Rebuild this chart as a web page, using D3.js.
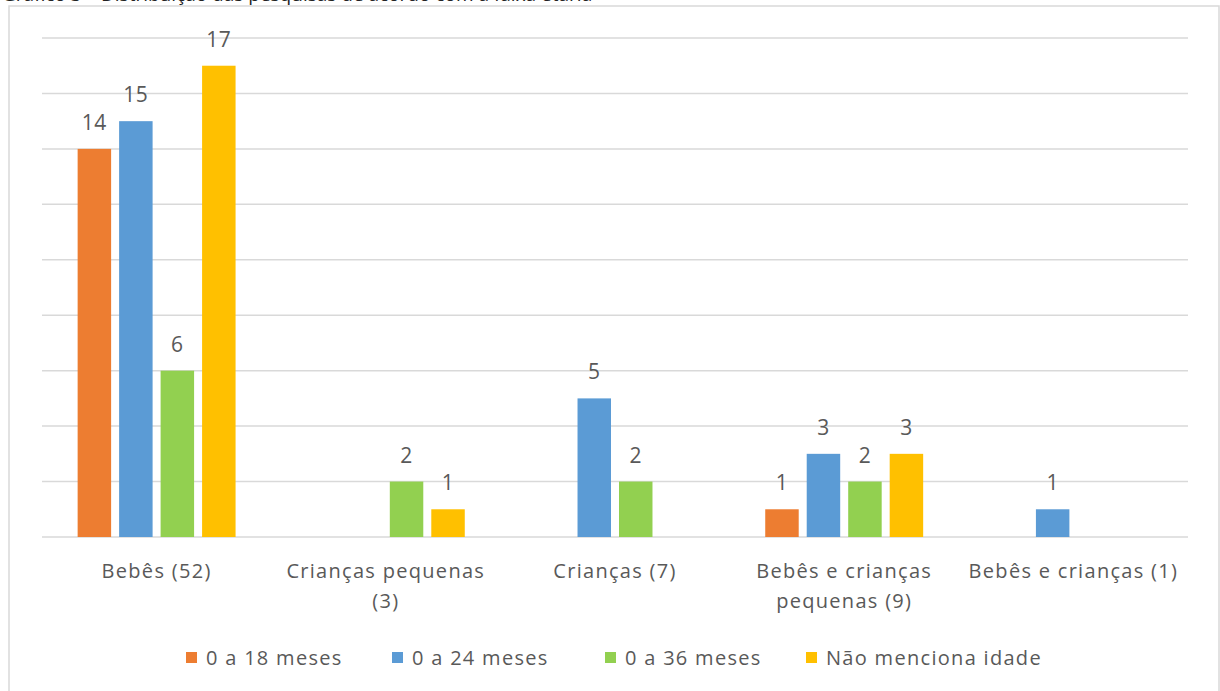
<!DOCTYPE html>
<html>
<head>
<meta charset="utf-8">
<script src="https://cdn.jsdelivr.net/npm/d3@7"></script>
<style>
  html, body { margin: 0; padding: 0; background: #fff; }
  svg text { font-family: "Open Sans", sans-serif; fill: #595959; }
</style>
</head>
<body>
<svg id="chart" width="1220" height="691"></svg>
<script>
// Age groups studied, per category of subject
const categories = ["Bebês (52)", "Crianças pequenas (3)", "Crianças (7)", "Bebês e crianças pequenas (9)", "Bebês e crianças (1)"];
const series = ["0 a 18 meses", "0 a 24 meses", "0 a 36 meses", "Não menciona idade"];
const colors = ["#ED7D31", "#5B9BD5", "#92D050", "#FFC000"];
const values18 = [14, 0, 0, 1, 0];
const values24 = [15, 0, 5, 3, 1];
const values36 = [6, 2, 2, 2, 0];
const valuesNone = [17, 1, 0, 3, 0];
const yTicks = [0, 2, 4, 6, 8, 10, 12, 14, 16, 18];
const title = "Gráfico 3 – Distribuição das pesquisas de acordo com a faixa etária";

const seriesValues = [values18, values24, values36, valuesNone];
const rows = categories.map((c, i) => ({
  category: c,
  values: series.map((s, j) => ({ series: s, value: seriesValues[j][i], color: colors[j] }))
}));

const svg = d3.select("#chart");
const plot = { left: 42, right: 1188, top: 38, bottom: 537 };

// Title sits above the frame, mostly clipped by the top edge
svg.append("text")
  .attr("x", 2).attr("y", 1)
  .style("font-size", "19px").style("fill", "#222")
  .text(title);

// Chart frame
svg.append("rect")
  .attr("x", 9).attr("y", 6).attr("width", 1210).attr("height", 700)
  .attr("fill", "none").attr("stroke", "#d9d9d9").attr("stroke-width", 1.5);

const x0 = d3.scaleBand().domain(categories)
  .range([plot.left, plot.right]).paddingInner(0.276).paddingOuter(0.138);
const x1 = d3.scaleBand().domain(series)
  .range([0, x0.bandwidth()]).paddingInner(0.193).paddingOuter(0.0965);
const y = d3.scaleLinear().domain([0, 18]).range([plot.bottom, plot.top]);

// Horizontal gridlines
svg.append("g").selectAll("line").data(yTicks).join("line")
  .attr("x1", plot.left).attr("x2", plot.right)
  .attr("y1", d => y(d)).attr("y2", d => y(d))
  .attr("stroke", "#d9d9d9").attr("stroke-width", 1.5);

// Bars and value labels
const groups = svg.append("g").selectAll("g").data(rows).join("g")
  .attr("transform", d => `translate(${x0(d.category)},0)`);

const nonZero = d => d.values.filter(v => v.value > 0);

groups.selectAll("rect").data(nonZero).join("rect")
  .attr("x", d => x1(d.series))
  .attr("y", d => y(d.value))
  .attr("width", x1.bandwidth())
  .attr("height", d => y(0) - y(d.value))
  .attr("fill", d => d.color);

groups.selectAll("text").data(nonZero).join("text")
  .attr("x", d => x1(d.series) + x1.bandwidth() / 2)
  .attr("y", d => y(d.value) - 19)
  .attr("text-anchor", "middle")
  .style("font-size", "21px")
  .style("letter-spacing", "0.5px")
  .text(d => d.value);

// Category labels, wrapped to the band width
const xAxis = svg.append("g");
const maxWidth = x0.step() - 8;
categories.forEach(c => {
  const cx = x0(c) + x0.bandwidth() / 2;
  const t = xAxis.append("text")
    .attr("x", cx)
    .attr("y", 578)
    .attr("text-anchor", "middle")
    .style("font-size", "20px")
    .style("letter-spacing", "1.3px");
  const words = c.split(" ");
  let line = [];
  let tspan = t.append("tspan").attr("x", cx).attr("dy", 0);
  words.forEach(w => {
    line.push(w);
    tspan.text(line.join(" "));
    if (tspan.node().getComputedTextLength() > maxWidth && line.length > 1) {
      line.pop();
      tspan.text(line.join(" "));
      line = [w];
      tspan = t.append("tspan").attr("x", cx).attr("dy", 30).text(w);
    }
  });
});

// Legend
const legendX = [186, 392, 605, 806];
const legend = svg.append("g").selectAll("g").data(series).join("g")
  .attr("transform", (d, i) => `translate(${legendX[i]},652)`);
legend.append("rect")
  .attr("width", 11).attr("height", 11)
  .attr("fill", (d, i) => colors[i]);
legend.append("text")
  .attr("x", 20).attr("y", 13)
  .style("font-size", "20px")
  .style("letter-spacing", "1.3px")
  .text(d => d);
</script>
</body>
</html>
